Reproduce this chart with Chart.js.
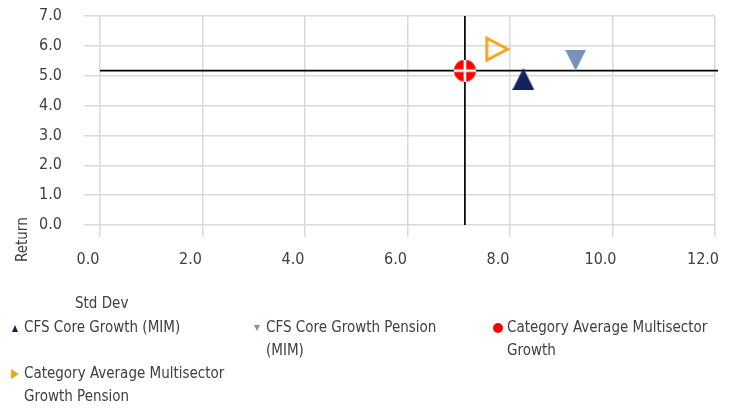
<!DOCTYPE html>
<html>
<head>
<meta charset="utf-8">
<script src="https://cdn.jsdelivr.net/npm/chart.js@4/dist/chart.umd.min.js"></script>
<style>
  html, body { margin: 0; padding: 0; background: #ffffff; }
  #wrap { position: relative; width: 729px; height: 409px; overflow: hidden; }
  #chart { position: absolute; left: 0; top: 0; }
  #legend {
    position: absolute; left: 0; top: 316px; width: 729px;
    display: grid; grid-template-columns: 242px 241px 241px;
    font-family: 'DejaVu Sans Condensed', 'Liberation Sans Narrow', sans-serif;
    font-size: 15px; line-height: 23px; color: #404040;
  }
  .item { position: relative; padding-left: 24px; width: 204px; }
  .item canvas { position: absolute; }
</style>
</head>
<body>
<div id="wrap">
  <canvas id="chart" width="729" height="409"></canvas>
  <div id="legend"></div>
</div>
<script>
// ---- data ----
const seriesNames = [
  'CFS Core Growth (MIM)',
  'CFS Core Growth Pension (MIM)',
  'Category Average Multisector Growth',
  'Category Average Multisector Growth Pension'
];
const stdDev  = [8.26, 9.28, 7.12, 7.76];   // x values
const returns = [4.89, 5.52, 5.17, 5.89];   // y values
const xTicks = [0, 2, 4, 6, 8, 10, 12];
const yTicks = [0, 1, 2, 3, 4, 5, 6, 7];
const xTitle = 'Std Dev';
const yTitle = 'Return';
const averageIndex = 2;   // crosshair drawn through the category average

// ---- styles ----
const FONT = "'DejaVu Sans Condensed', 'Liberation Sans Narrow', sans-serif";
const TEXT = '#404040';
const GRID = '#d9d9d9';
const colors = ['#14235a', '#7592bb', '#ff0000', '#f7a21b'];

function marker(shape, w, h, fill, stroke, lw, cross) {
  const c = document.createElement('canvas');
  c.width = w; c.height = h;
  const g = c.getContext('2d');
  g.beginPath();
  if (shape === 'up') { g.moveTo(w / 2, 0); g.lineTo(w, h); g.lineTo(0, h); }
  else if (shape === 'down') { g.moveTo(0, 0); g.lineTo(w, 0); g.lineTo(w / 2, h); }
  else if (shape === 'right') {
    const i = lw ? lw / 2 + 0.5 : 0;
    g.moveTo(i, i); g.lineTo(w - (lw ? 3 : 0), h / 2); g.lineTo(i, h - i);
  }
  else if (shape === 'circle') { g.arc(w / 2, h / 2, w / 2, 0, Math.PI * 2); }
  g.closePath();
  if (fill) { g.fillStyle = fill; g.fill(); }
  if (stroke) { g.strokeStyle = stroke; g.lineWidth = lw; g.lineJoin = 'miter'; g.stroke(); }
  if (cross) {
    g.strokeStyle = '#ffffff'; g.lineWidth = 2.6;
    g.beginPath();
    g.moveTo(0, h / 2); g.lineTo(w, h / 2);
    g.moveTo(w / 2, 0); g.lineTo(w / 2, h);
    g.stroke();
  }
  return c;
}

const chartMarkers = [
  marker('up', 22, 22, colors[0]),
  marker('down', 21, 21, colors[1]),
  marker('circle', 22, 22, colors[2], null, 0, true),
  marker('right', 26, 26, null, colors[3], 3)
];
const legendMarkers = [
  marker('up', 6, 7, colors[0]),
  marker('down', 6, 6, colors[1]),
  marker('circle', 10, 10, colors[2]),
  marker('right', 8, 10, colors[3])
];

const pointSets = seriesNames.map((name, i) => ({
  label: name,
  data: [{ x: stdDev[i], y: returns[i] }],
  pointStyle: chartMarkers[i],
  pointRadius: 11,
  backgroundColor: colors[i],
  borderColor: colors[i],
  order: 0
}));

const xMin = xTicks[0], xMax = xTicks[xTicks.length - 1];
const yMin = yTicks[0], yMax = yTicks[yTicks.length - 1];

const lineSets = [
  { label: '_h', data: [{ x: xMin, y: returns[averageIndex] }, { x: xMax + 0.06, y: returns[averageIndex] }] },
  { label: '_v', data: [{ x: stdDev[averageIndex], y: yMin }, { x: stdDev[averageIndex], y: yMax }] }
].map(d => Object.assign(d, {
  showLine: true, borderColor: '#000000', borderWidth: 1.7, pointRadius: 0, order: 5, clip: false
}));

const titlePlugin = {
  id: 'axisTitles',
  afterDraw(chart) {
    const ctx = chart.ctx;
    ctx.save();
    ctx.font = '15px ' + FONT;
    ctx.fillStyle = TEXT;
    ctx.textBaseline = 'alphabetic';
    ctx.textAlign = 'left';
    ctx.fillText(chart.scales.x.options.title.text, 75, 308);
    ctx.translate(27, 262);
    ctx.rotate(-Math.PI / 2);
    ctx.fillText(chart.scales.y.options.title.text, 0, 0);
    ctx.restore();
  }
};

function noPad(s) { s.paddingTop = 0; s.paddingBottom = 0; s.paddingLeft = 0; s.paddingRight = 0; }

const chart = new Chart(document.getElementById('chart'), {
  type: 'scatter',
  data: { datasets: [...pointSets, ...lineSets] },
  plugins: [titlePlugin],
  options: {
    responsive: false,
    animation: false,
    devicePixelRatio: 1,
    layout: { padding: { left: 0, right: 14, top: 16, bottom: 409 - 225 - 44 } },
    plugins: { legend: { display: false }, tooltip: { enabled: false } },
    scales: {
      x: {
        type: 'linear', min: xMin, max: xMax,
        afterBuildTicks: s => { s.ticks = xTicks.map(v => ({ value: v })); },
        afterFit: s => { s.height = 44; noPad(s); },
        ticks: {
          callback: v => Number(v).toFixed(1),
          font: { family: FONT, size: 16 }, color: TEXT,
          padding: 13, labelOffset: -12, maxRotation: 0
        },
        grid: { color: GRID, lineWidth: 1.5, tickLength: 12, tickColor: GRID },
        border: { display: false },
        title: { display: false, text: xTitle }
      },
      y: {
        type: 'linear', min: yMin, max: yMax,
        afterBuildTicks: s => { s.ticks = yTicks.map(v => ({ value: v })); },
        afterFit: s => { s.width = 100; noPad(s); },
        ticks: {
          callback: v => Number(v).toFixed(1),
          font: { family: FONT, size: 16 }, color: TEXT,
          padding: 22
        },
        grid: { color: GRID, lineWidth: 1.5, tickLength: 16, tickColor: GRID },
        border: { display: false },
        title: { display: false, text: yTitle }
      }
    }
  }
});

// ---- HTML legend built from the chart's datasets ----
const legendEl = document.getElementById('legend');
chart.data.datasets.slice(0, seriesNames.length).forEach((ds, i) => {
  const item = document.createElement('div');
  item.className = 'item';
  const m = legendMarkers[i];
  m.style.left = (15 - m.width / 2) + 'px';
  m.style.top = (12 - m.height / 2) + 'px';
  item.appendChild(m);
  const span = document.createElement('span');
  span.textContent = ds.label;
  item.appendChild(span);
  legendEl.appendChild(item);
});
</script>
</body>
</html>
